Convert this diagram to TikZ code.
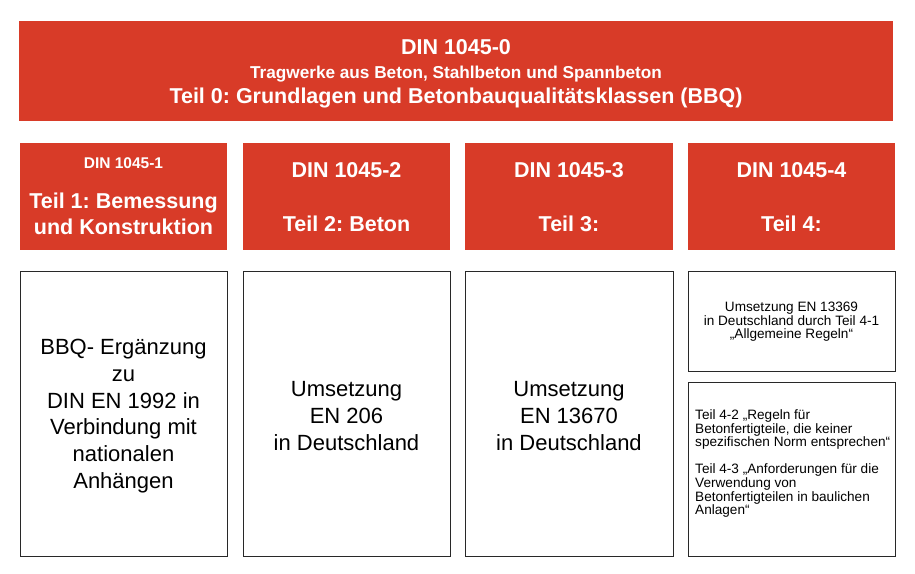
\documentclass[tikz,border=0pt]{standalone}
\usepackage{fontspec}
\setmainfont{Liberation Sans}
\definecolor{dinred}{RGB}{216,59,40}
\definecolor{boxline}{RGB}{40,40,40}
\frenchspacing
\begin{document}
\begin{tikzpicture}[x=1pt,y=-1pt,
  redbox/.style={fill=dinred, draw=none, inner sep=0pt},
  whitebox/.style={draw=boxline, line width=0.9pt, fill=white, inner sep=0pt},
  hd/.style={text=white, font=\bfseries\fontsize{21.5}{26}\selectfont, inner sep=0pt, anchor=base},
  hdsmall/.style={text=white, font=\bfseries\fontsize{15.5}{18}\selectfont, inner sep=0pt, anchor=base},
  hdsub/.style={text=white, font=\bfseries\fontsize{17.2}{20}\selectfont, inner sep=0pt, anchor=base},
  bigtxt/.style={text=black, font=\fontsize{22}{26.8}\selectfont, align=center, inner sep=0pt},
  smalltxt/.style={text=black, font=\fontsize{13.6}{13.6}\selectfont, inner sep=0pt}
]
\useasboundingbox[fill=white] (0,0) rectangle (915,573);

% top box
\node[redbox, minimum width=874pt, minimum height=100pt] (top) at (456,71) {};
\node[hd] (t0a) at (456,54.5) {DIN 1045-0};
\node[hdsub] (t0b) at (456,78.5) {Tragwerke aus Beton, Stahlbeton und Spannbeton};
\node[hd] (t0c) at (456,103) {Teil 0: Grundlagen und Betonbauqualitätsklassen (BBQ)};

% red part boxes
\node[redbox, minimum width=207pt, minimum height=107pt] (p1) at (123.5,196.5) {};
\node[redbox, minimum width=207pt, minimum height=107pt] (p2) at (346.5,196.5) {};
\node[redbox, minimum width=208pt, minimum height=107pt] (p3) at (569,196.5) {};
\node[redbox, minimum width=207pt, minimum height=107pt] (p4) at (791.5,196.5) {};

\node[hdsmall] (p1a) at (123.5,168) {DIN 1045-1};
\node[hd] (p1b) at (123.5,208) {Teil 1: Bemessung};
\node[hd] (p1c) at (123.5,234) {und Konstruktion};

\node[hd] (p2a) at (346.5,177) {DIN 1045-2};
\node[hd] (p2b) at (346.5,231) {Teil 2: Beton};

\node[hd] (p3a) at (569,177) {DIN 1045-3};
\node[hd] (p3b) at (569,231) {Teil 3:};

\node[hd] (p4a) at (791.5,177) {DIN 1045-4};
\node[hd] (p4b) at (791.5,231) {Teil 4:};

% white boxes
\node[whitebox, minimum width=207pt, minimum height=285pt] (w1) at (123.5,413.5) {};
\node[whitebox, minimum width=207pt, minimum height=285pt] (w2) at (346.5,413.5) {};
\node[whitebox, minimum width=208pt, minimum height=285pt] (w3) at (569,413.5) {};
\node[whitebox, minimum width=207pt, minimum height=100pt] (w4a) at (791.5,321) {};
\node[whitebox, minimum width=207pt, minimum height=174pt] (w4b) at (791.5,469) {};

\node[bigtxt] (w1t) at (123.5,416) {BBQ- Ergänzung\\zu\\DIN EN 1992 in\\Verbindung mit\\nationalen\\Anhängen};
\node[bigtxt] (w2t) at (346.5,416) {Umsetzung\\EN 206\\in Deutschland};
\node[bigtxt] (w3t) at (569,416) {Umsetzung\\EN 13670\\in Deutschland};

\node[smalltxt, align=center] (w4at) at (791.5,322) {Umsetzung EN 13369\\in Deutschland durch Teil 4-1\\„Allgemeine Regeln“};
\node[smalltxt, align=left, anchor=north west] (w4bt) at (695,409.5) {Teil 4-2 „Regeln für\\Betonfertigteile, die keiner\\spezifischen Norm entsprechen“\\[13.6pt]Teil 4-3 „Anforderungen für die\\Verwendung von\\Betonfertigteilen in baulichen\\Anlagen“};
\end{tikzpicture}
\end{document}
